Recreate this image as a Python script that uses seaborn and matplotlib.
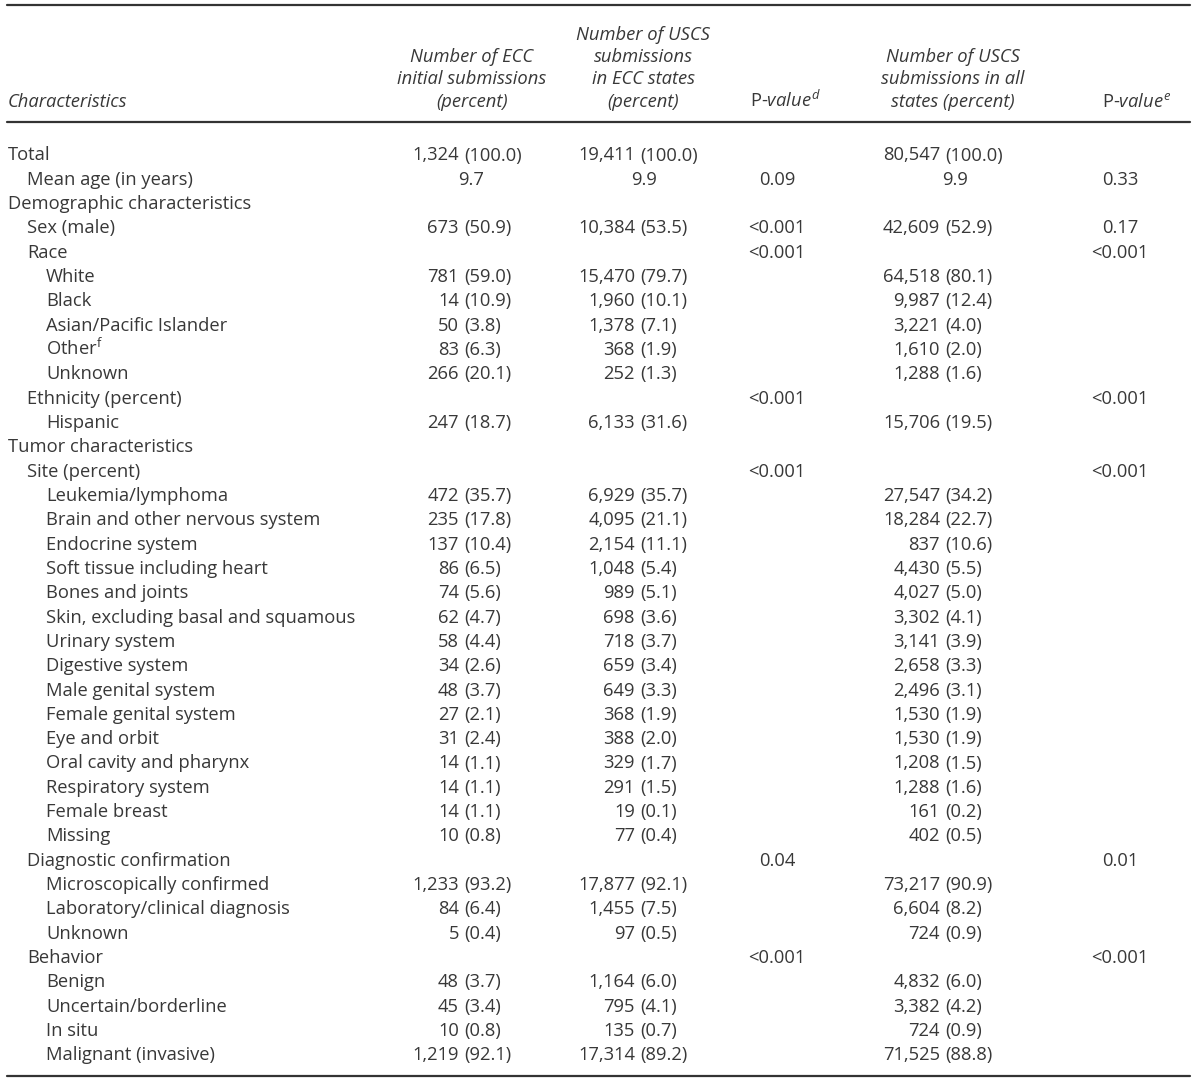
import numpy as np
import pandas as pd
import seaborn as sns
import matplotlib.pyplot as plt

sns.set_theme(style='white')
plt.rcParams['font.family'] = ['Open Sans', 'DejaVu Sans']
plt.rcParams['mathtext.fontset'] = 'custom'
plt.rcParams['mathtext.rm'] = 'Open Sans'
plt.rcParams['mathtext.it'] = 'Open Sans:italic'

# table content
labels = ['Total', 'Mean age (in years)', 'Demographic characteristics', 'Sex (male)', 'Race',
          'White', 'Black', 'Asian/Pacific Islander', r'Other$^{\mathregular{f}}$', 'Unknown',
          'Ethnicity (percent)', 'Hispanic', 'Tumor characteristics', 'Site (percent)',
          'Leukemia/lymphoma', 'Brain and other nervous system', 'Endocrine system',
          'Soft tissue including heart', 'Bones and joints', 'Skin, excluding basal and squamous',
          'Urinary system', 'Digestive system', 'Male genital system', 'Female genital system',
          'Eye and orbit', 'Oral cavity and pharynx', 'Respiratory system', 'Female breast',
          'Missing', 'Diagnostic confirmation', 'Microscopically confirmed',
          'Laboratory/clinical diagnosis', 'Unknown', 'Behavior', 'Benign',
          'Uncertain/borderline', 'In situ', 'Malignant (invasive)']
levels = [0, 1, 0, 1, 1, 2, 2, 2, 2, 2, 1, 2, 0, 1, 2, 2, 2, 2, 2, 2, 2, 2, 2, 2, 2, 2, 2, 2, 2,
          1, 2, 2, 2, 1, 2, 2, 2, 2]

ecc_initial = ['1,324 (100.0)', '9.7', '', '673 (50.9)', '', '781 (59.0)', '14 (10.9)',
               '50 (3.8)', '83 (6.3)', '266 (20.1)', '', '247 (18.7)', '', '', '472 (35.7)',
               '235 (17.8)', '137 (10.4)', '86 (6.5)', '74 (5.6)', '62 (4.7)', '58 (4.4)',
               '34 (2.6)', '48 (3.7)', '27 (2.1)', '31 (2.4)', '14 (1.1)', '14 (1.1)', '14 (1.1)',
               '10 (0.8)', '', '1,233 (93.2)', '84 (6.4)', '5 (0.4)', '', '48 (3.7)', '45 (3.4)',
               '10 (0.8)', '1,219 (92.1)']
uscs_ecc = ['19,411 (100.0)', '9.9', '', '10,384 (53.5)', '', '15,470 (79.7)', '1,960 (10.1)',
            '1,378 (7.1)', '368 (1.9)', '252 (1.3)', '', '6,133 (31.6)', '', '', '6,929 (35.7)',
            '4,095 (21.1)', '2,154 (11.1)', '1,048 (5.4)', '989 (5.1)', '698 (3.6)', '718 (3.7)',
            '659 (3.4)', '649 (3.3)', '368 (1.9)', '388 (2.0)', '329 (1.7)', '291 (1.5)',
            '19 (0.1)', '77 (0.4)', '', '17,877 (92.1)', '1,455 (7.5)', '97 (0.5)', '',
            '1,164 (6.0)', '795 (4.1)', '135 (0.7)', '17,314 (89.2)']
p_ecc = ['', '0.09', '', '<0.001', '<0.001', '', '', '', '', '', '<0.001', '', '', '<0.001',
         '', '', '', '', '', '', '', '', '', '', '', '', '', '', '', '0.04', '', '', '',
         '<0.001', '', '', '', '']
uscs_all = ['80,547 (100.0)', '9.9', '', '42,609 (52.9)', '', '64,518 (80.1)', '9,987 (12.4)',
            '3,221 (4.0)', '1,610 (2.0)', '1,288 (1.6)', '', '15,706 (19.5)', '', '',
            '27,547 (34.2)', '18,284 (22.7)', '837 (10.6)', '4,430 (5.5)', '4,027 (5.0)',
            '3,302 (4.1)', '3,141 (3.9)', '2,658 (3.3)', '2,496 (3.1)', '1,530 (1.9)',
            '1,530 (1.9)', '1,208 (1.5)', '1,288 (1.6)', '161 (0.2)', '402 (0.5)', '',
            '73,217 (90.9)', '6,604 (8.2)', '724 (0.9)', '', '4,832 (6.0)', '3,382 (4.2)',
            '724 (0.9)', '71,525 (88.8)']
p_all = ['', '0.33', '', '0.17', '<0.001', '', '', '', '', '', '<0.001', '', '', '<0.001',
         '', '', '', '', '', '', '', '', '', '', '', '', '', '', '', '0.01', '', '', '',
         '<0.001', '', '', '', '']

headers = [['Number of ECC', 'initial submissions', '(percent)'],
           ['Number of USCS', 'submissions', 'in ECC states', '(percent)'],
           [r'P-$\mathit{value}^{\mathit{d}}$'],
           ['Number of USCS', 'submissions in all', 'states (percent)'],
           [r'P-$\mathit{value}^{\mathit{e}}$']]

df = pd.DataFrame({'label': labels, 'level': levels, 'ecc': ecc_initial, 'uscs_ecc': uscs_ecc,
                   'p_ecc': p_ecc, 'uscs_all': uscs_all, 'p_all': p_all})

txt = '#383838'
fs = 13.2

fig = plt.figure(figsize=(12, 10.82), dpi=100)
ax = fig.add_axes([0, 0, 1, 1])
ax.set_xlim(0, 1200)
ax.set_ylim(1082, 0)
ax.axis('off')

# column anchors (pixels)
count_cols = {'ecc': (464, 471), 'uscs_ecc': (640, 644), 'uscs_all': (945, 955)}
p_cols = {'p_ecc': 777, 'p_all': 1120}
header_x = [472, 643, 785, 953, 1137]

# rules
ax.plot([7, 1190], [5, 5], color='#333333', lw=1.6)
ax.plot([7, 1190], [122, 122], color='#333333', lw=1.6)
ax.plot([7, 1190], [1076, 1076], color='#333333', lw=1.6)

# header
ax.text(8, 107, 'Characteristics', fontsize=fs, style='italic', color=txt, va='baseline')
for hx, lines in zip(header_x, headers):
    for k, line in enumerate(reversed(lines)):
        st = 'normal' if line.startswith('P-') else 'italic'
        ax.text(hx, 107 - k * 22.5, line, fontsize=fs, style=st, color=txt,
                ha='center', va='baseline')

# body
row_h = 24.32
for i, row in df.iterrows():
    y = 160.5 + i * row_h
    ax.text(8 + 19 * row['level'], y, row['label'], fontsize=fs, color=txt, va='baseline')
    for col, (px, cx) in count_cols.items():
        val = row[col]
        if not val:
            continue
        if ' (' in val:
            n, pct = val.split(' (')
            ax.text(px - 5, y, n, fontsize=fs, color=txt, ha='right', va='baseline')
            ax.text(px, y, '(' + pct, fontsize=fs, color=txt, ha='left', va='baseline')
        else:
            ax.text(cx, y, val, fontsize=fs, color=txt, ha='center', va='baseline')
    for col, cx in p_cols.items():
        if row[col]:
            ax.text(cx, y, row[col], fontsize=fs, color=txt, ha='center', va='baseline')

fig.savefig('out.png', dpi=100, facecolor='white')
